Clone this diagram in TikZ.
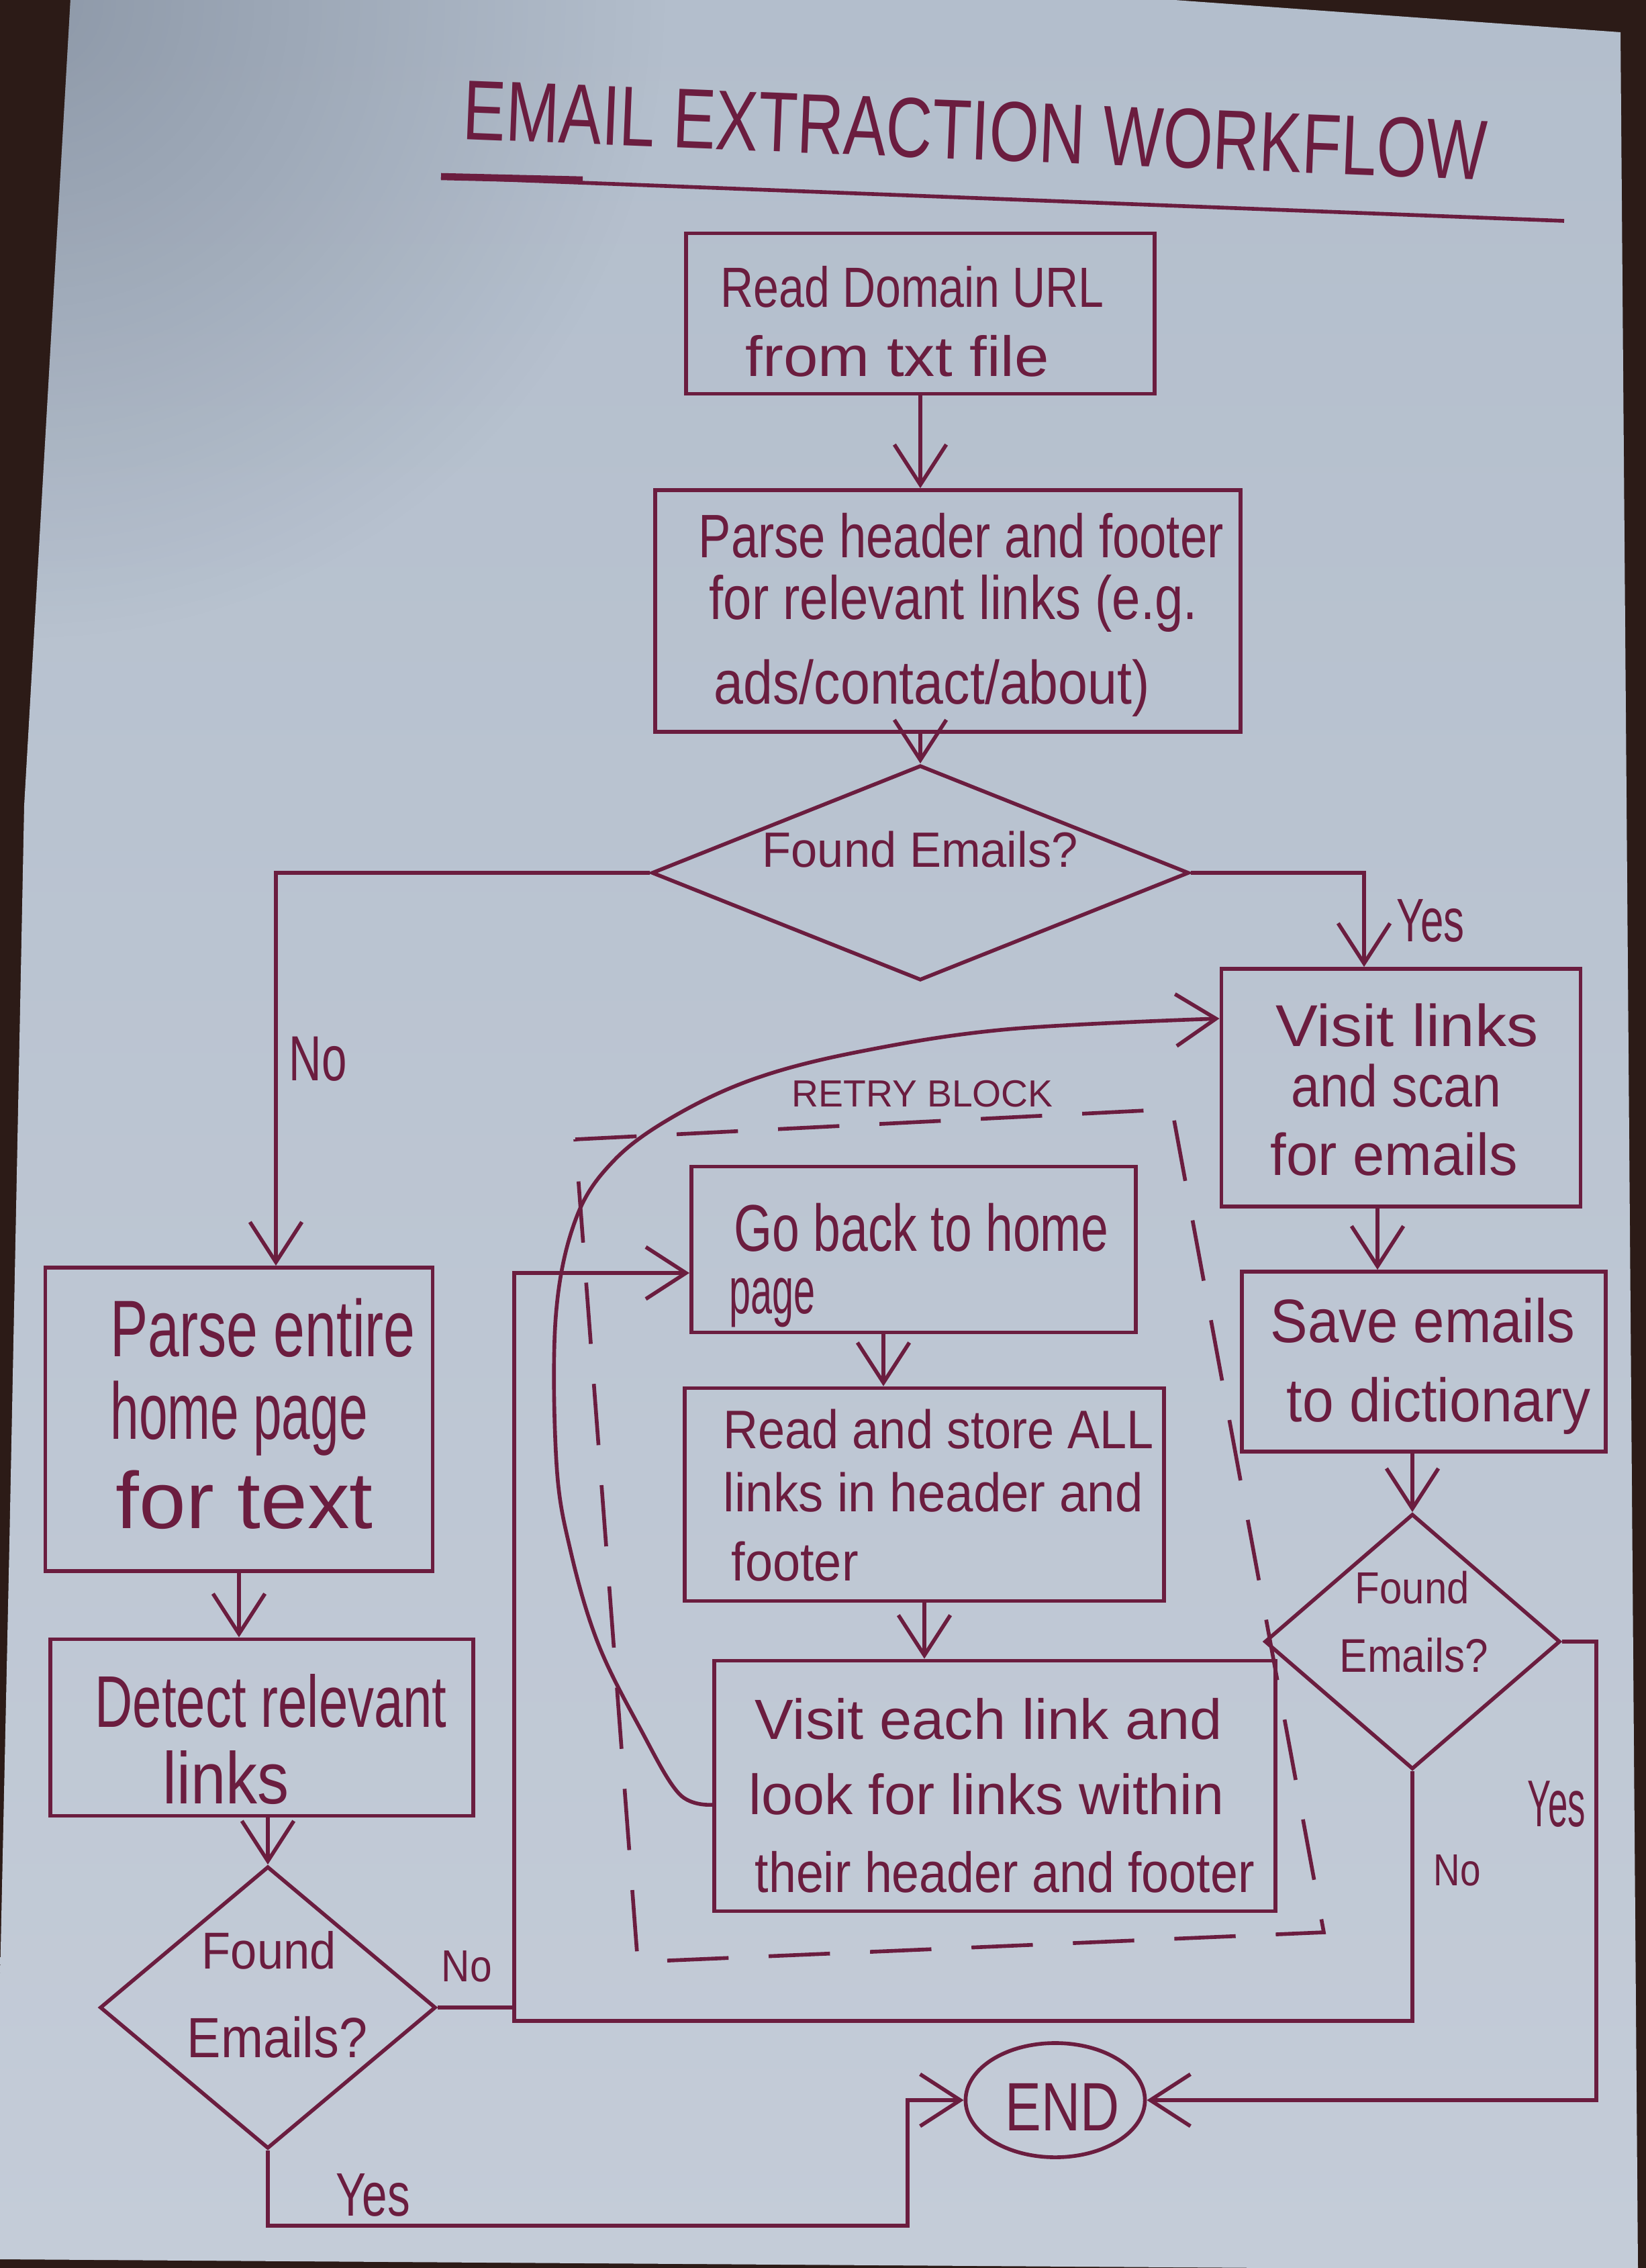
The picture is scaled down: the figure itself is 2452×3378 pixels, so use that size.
\documentclass[tikz,border=0pt]{standalone}
\usepackage{fontspec}
\setmainfont{Liberation Sans}
\usepackage{graphicx}
\usetikzlibrary{arrows.meta,calc,shapes.geometric,fadings}

\newlength\pxu
\setlength\pxu{0.01cm}

\definecolor{ink}{HTML}{6B1D3F}
\definecolor{paperT}{HTML}{B3BECC}
\definecolor{paperB}{HTML}{C4CCD8}
\definecolor{paperdark}{HTML}{6F7A8B}
\definecolor{wood}{HTML}{2C1B17}

\tikzfading[name=softspot, inner color=transparent!0, outer color=transparent!100]

% one hand-lettered line: name, x, y (start of baseline), width, size, text
\newcommand\handline[6]{%
  \node[hand, font=\fontsize{#5}{#5}\selectfont] (#1) at (#2,#3)
    {\resizebox{#4\pxu}{\height}{#6}};}

\begin{document}
\begin{tikzpicture}[x=0.01cm, y=-0.01cm,
  hand/.style={anchor=base west, inner sep=0pt, text=ink},
  box/.style={draw=ink, line width=1.6pt, inner sep=0pt},
  decision/.style={diamond, draw=ink, line width=1.6pt, inner sep=0pt},
  terminal/.style={ellipse, draw=ink, line width=1.6pt, inner sep=0pt},
  link/.style={draw=ink, line width=1.6pt},
  flow/.style={link, -{Straight Barb[length=17pt,width=22pt,line width=1.6pt]}},
  retry/.style={draw=ink, line width=1.6pt, dash pattern=on 26pt off 17pt}]

\useasboundingbox (0,0) rectangle (2452,3378);

% table and sheet of paper
\fill[wood] (0,0) rectangle (2452,3378);
\begin{scope}
  \clip (105,0) -- (1750,0) -- (2150,29) -- (2414,48) -- (2427,1700)
        -- (2440,3378) -- (1900,3378) -- (0,3365) -- (0,2950)
        -- (14,2300) -- (36,1200) -- cycle;
  \shade[top color=paperT, bottom color=paperB] (0,0) rectangle (2452,3378);
  \fill[paperdark, fill opacity=0.55, path fading=softspot] (40,0) circle (950);
\end{scope}

% title
\node[hand, rotate=-2.3, font=\fontsize{36pt}{36pt}\selectfont] (title) at (688,207)
  {\resizebox{1526\pxu}{\height}{EMAIL EXTRACTION WORKFLOW}};
\draw[link] (657,264) -- (2330,329);
\draw[ink, line width=3pt] (657,263) -- (868,268);

% shapes
\node[box, minimum width=6.97cm, minimum height=2.39cm] (readurl) at (1371,467) {};
\node[box, minimum width=8.71cm, minimum height=3.60cm] (parsehf) at (1412,910) {};
\node[decision, minimum width=8.00cm, minimum height=3.20cm] (found1) at (1371,1300) {};
\node[box, minimum width=5.35cm, minimum height=3.54cm] (visitlinks) at (2087,1620) {};
\node[box, minimum width=5.42cm, minimum height=2.68cm] (saveemails) at (2121,2028) {};
\node[decision, minimum width=4.40cm, minimum height=3.80cm] (found2) at (2104,2445) {};
\node[box, minimum width=5.77cm, minimum height=4.52cm] (parsehome) at (356,2114) {};
\node[box, minimum width=6.30cm, minimum height=2.63cm] (detect) at (390,2573) {};
\node[decision, minimum width=5.00cm, minimum height=4.20cm] (found3) at (399,2990) {};
\node[box, minimum width=6.62cm, minimum height=2.47cm] (goback) at (1361,1861) {};
\node[box, minimum width=7.14cm, minimum height=3.17cm] (readstore) at (1377,2226) {};
\node[box, minimum width=8.35cm, minimum height=3.73cm] (visiteach) at (1482,2660) {};
\node[terminal, minimum width=2.67cm, minimum height=1.70cm] (finish) at (1572,3128) {};

% retry block frame
\draw[retry] (857,1697) -- (1746,1652) -- (1972,2878) -- (950,2922) -- cycle;
\handline{retrylabel}{1179}{1648}{389}{16pt}{RETRY BLOCK}

% texts
\handline{t1a}{1073}{457}{571}{24pt}{Read Domain URL}
\handline{t1b}{1110}{560}{452}{24pt}{from txt file}
\handline{t2a}{1040}{830}{782}{26pt}{Parse header and footer}
\handline{t2b}{1056}{922}{727}{26pt}{for relevant links (e.g.}
\handline{t2c}{1063}{1048}{649}{26pt}{ads/contact/about)}
\handline{q1}{1135}{1291}{470}{21pt}{Found Emails?}
\handline{no1}{430}{1609}{86}{27pt}{No}
\handline{yes1}{2080}{1402}{101}{26pt}{Yes}
\handline{t3a}{1900}{1558}{391}{25pt}{Visit links}
\handline{t3b}{1923}{1648}{313}{25pt}{and scan}
\handline{t3c}{1892}{1750}{368}{25pt}{for emails}
\handline{t4a}{1892}{1999}{454}{26pt}{Save emails}
\handline{t4b}{1916}{2117}{453}{26pt}{to dictionary}
\handline{q2a}{2018}{2388}{170}{19pt}{Found}
\handline{q2b}{1995}{2490}{221}{20pt}{Emails?}
\handline{yes2}{2275}{2720}{86}{28pt}{Yes}
\handline{no2}{2135}{2808}{70}{19pt}{No}
\handline{t5a}{164}{2020}{454}{34pt}{Parse entire}
\handline{t5b}{164}{2143}{383}{34pt}{home page}
\handline{t5c}{172}{2276}{383}{34pt}{for text}
\handline{t6a}{141}{2572}{524}{31pt}{Detect relevant}
\handline{t6b}{242}{2686}{188}{31pt}{links}
\handline{q3a}{300}{2932}{200}{22pt}{Found}
\handline{q3b}{278}{3064}{269}{24pt}{Emails?}
\handline{no3}{657}{2951}{75}{19pt}{No}
\handline{yes3}{500}{3300}{110}{26pt}{Yes}
\handline{tend}{1497}{3173}{170}{29pt}{END}
\handline{t7a}{1093}{1863}{558}{28pt}{Go back to home}
\handline{t7b}{1086}{1956}{128}{28pt}{page}
\handline{t8a}{1077}{2157}{641}{23pt}{Read and store ALL}
\handline{t8b}{1077}{2251}{625}{23pt}{links in header and}
\handline{t8c}{1089}{2354}{189}{23pt}{footer}
\handline{t9a}{1124}{2590}{696}{24pt}{Visit each link and}
\handline{t9b}{1115}{2702}{708}{24pt}{look for links within}
\handline{t9c}{1124}{2818}{744}{24pt}{their header and footer}

% connectors
\draw[flow] (readurl.south) -- (readurl.south |- parsehf.north);
\draw[flow] (found1.north |- parsehf.south) -- (found1.north);
\draw[flow] (found1.west) -| ($(parsehome.north)+(55,0)$);
\draw[flow] (found1.east) -| ($(visitlinks.north)+(-55,0)$);
\coordinate (vls) at ($(visitlinks.south)+(-35,0)$);
\draw[flow] (vls) -- (vls |- saveemails.north);
\draw[flow] (found2.north |- saveemails.south) -- (found2.north);
\coordinate (yesright) at (2378,3128);
\draw[flow] (found2.east) -| (yesright) -- (finish.east);
\coordinate (loopbl) at (766,3010);
\coordinate (looptl) at (766,1896);
\draw[flow] (found2.south) |- (loopbl) -- (looptl) -- (looptl -| goback.west);
\draw[link] (found3.east) -- (found3.east -| loopbl);
\draw[flow] (parsehome.south) -- (parsehome.south |- detect.north);
\draw[flow] (found3.north |- detect.south) -- (found3.north);
\coordinate (yesbottom) at (1352,3315);
\draw[flow] (found3.south) |- (yesbottom) |- (finish.west);
\coordinate (gbs) at ($(goback.south)+(-45,0)$);
\draw[flow] (gbs) -- (gbs |- readstore.north);
\draw[flow] (readstore.south) -- (readstore.south |- visiteach.north);

% retry loop back to the link scan
\coordinate (vestart) at ($(visiteach.west)+(0,28)$);
\coordinate (vlend) at ($(visitlinks.west)+(0,-103)$);
\draw[flow] plot[smooth, tension=0.6] coordinates {(vestart) (1012,2672) (954,2575)
  (891,2448) (850,2310) (829,2180) (828,1960) (858,1815) (915,1728) (1005,1662)
  (1126,1606) (1282,1566) (1501,1533) (vlend)};

\end{tikzpicture}
\end{document}
